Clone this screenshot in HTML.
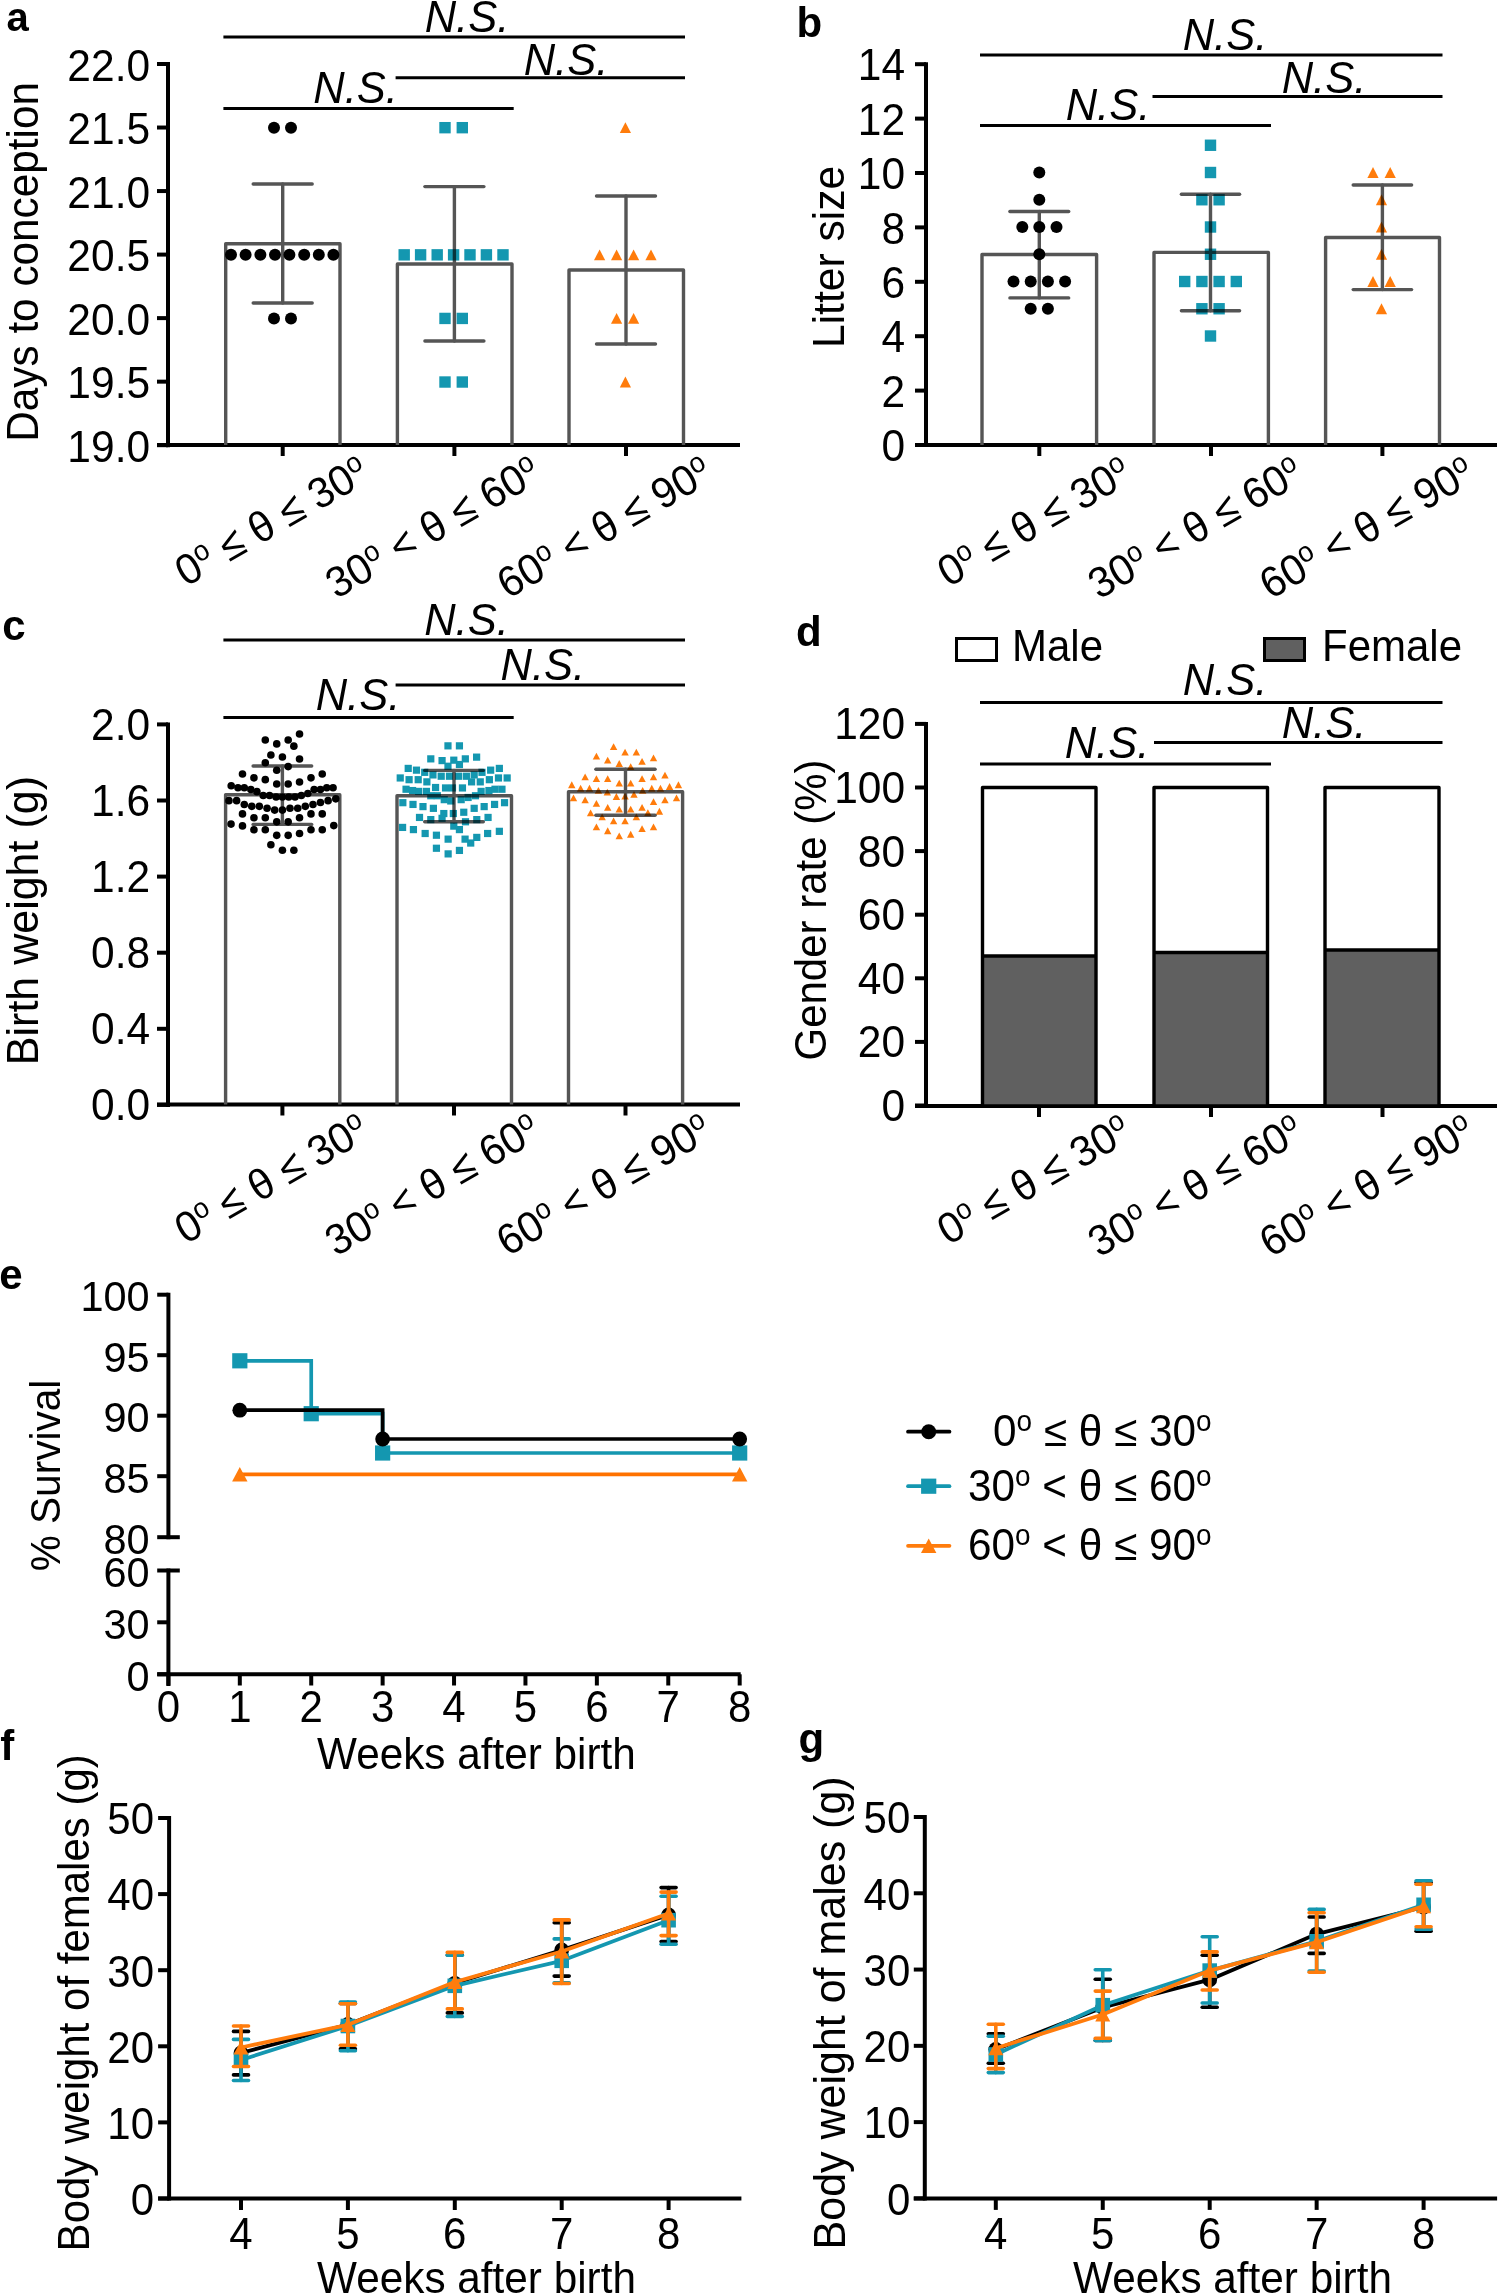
<!DOCTYPE html>
<html><head><meta charset="utf-8"><title>Figure</title>
<style>
html,body{margin:0;padding:0;background:#fff;}
svg{display:block;}
text{font-family:"Liberation Sans", sans-serif;fill:#000;}
</style></head>
<body>
<svg width="1498" height="2295" viewBox="0 0 1498 2295">
<rect width="1498" height="2295" fill="#fff"/>
<text transform="translate(6.5 31.2)" font-size="40" text-anchor="start" font-weight="bold">a</text>
<line x1="168" y1="62" x2="168" y2="447.18" stroke="#000" stroke-width="4" stroke-linecap="butt"/>
<line x1="157" y1="64" x2="168" y2="64" stroke="#000" stroke-width="4" stroke-linecap="butt"/>
<text transform="translate(150.1 80.5) scale(1 1.035)" font-size="42.5" text-anchor="end">22.0</text>
<line x1="157" y1="127.53" x2="168" y2="127.53" stroke="#000" stroke-width="4" stroke-linecap="butt"/>
<text transform="translate(150.1 144.03) scale(1 1.035)" font-size="42.5" text-anchor="end">21.5</text>
<line x1="157" y1="191.06" x2="168" y2="191.06" stroke="#000" stroke-width="4" stroke-linecap="butt"/>
<text transform="translate(150.1 207.56) scale(1 1.035)" font-size="42.5" text-anchor="end">21.0</text>
<line x1="157" y1="254.59" x2="168" y2="254.59" stroke="#000" stroke-width="4" stroke-linecap="butt"/>
<text transform="translate(150.1 271.09) scale(1 1.035)" font-size="42.5" text-anchor="end">20.5</text>
<line x1="157" y1="318.12" x2="168" y2="318.12" stroke="#000" stroke-width="4" stroke-linecap="butt"/>
<text transform="translate(150.1 334.62) scale(1 1.035)" font-size="42.5" text-anchor="end">20.0</text>
<line x1="157" y1="381.65" x2="168" y2="381.65" stroke="#000" stroke-width="4" stroke-linecap="butt"/>
<text transform="translate(150.1 398.15) scale(1 1.035)" font-size="42.5" text-anchor="end">19.5</text>
<line x1="157" y1="445.18" x2="168" y2="445.18" stroke="#000" stroke-width="4" stroke-linecap="butt"/>
<text transform="translate(150.1 461.68) scale(1 1.035)" font-size="42.5" text-anchor="end">19.0</text>
<line x1="157" y1="445" x2="740" y2="445" stroke="#000" stroke-width="4" stroke-linecap="butt"/>
<line x1="282.7" y1="445" x2="282.7" y2="456" stroke="#000" stroke-width="4" stroke-linecap="butt"/>
<line x1="454.4" y1="445" x2="454.4" y2="456" stroke="#000" stroke-width="4" stroke-linecap="butt"/>
<line x1="626" y1="445" x2="626" y2="456" stroke="#000" stroke-width="4" stroke-linecap="butt"/>
<path d="M225.7 445V243.7H340V445" fill="none" stroke="#555" stroke-width="3.4" stroke-linejoin="round"/>
<path d="M397.4 445V264H512V445" fill="none" stroke="#555" stroke-width="3.4" stroke-linejoin="round"/>
<path d="M569 445V270H683.5V445" fill="none" stroke="#555" stroke-width="3.4" stroke-linejoin="round"/>
<g stroke="#555" stroke-width="3.4" stroke-linecap="round">
<line x1="282.7" y1="184" x2="282.7" y2="303"/>
<line x1="253.2" y1="184" x2="312.2" y2="184"/>
<line x1="253.2" y1="303" x2="312.2" y2="303"/>
</g>
<g stroke="#555" stroke-width="3.4" stroke-linecap="round">
<line x1="454.4" y1="186.6" x2="454.4" y2="341"/>
<line x1="424.9" y1="186.6" x2="483.9" y2="186.6"/>
<line x1="424.9" y1="341" x2="483.9" y2="341"/>
</g>
<g stroke="#555" stroke-width="3.4" stroke-linecap="round">
<line x1="626" y1="196" x2="626" y2="344"/>
<line x1="596.5" y1="196" x2="655.5" y2="196"/>
<line x1="596.5" y1="344" x2="655.5" y2="344"/>
</g>
<g style="mix-blend-mode:multiply">
<circle cx="231" cy="254.85" r="6" fill="#000"/>
<circle cx="245.6" cy="254.85" r="6" fill="#000"/>
<circle cx="260.4" cy="254.85" r="6" fill="#000"/>
<circle cx="275" cy="254.85" r="6" fill="#000"/>
<circle cx="289.4" cy="254.85" r="6" fill="#000"/>
<circle cx="304.2" cy="254.85" r="6" fill="#000"/>
<circle cx="318.8" cy="254.85" r="6" fill="#000"/>
<circle cx="333.4" cy="254.85" r="6" fill="#000"/>
<circle cx="274" cy="127.68" r="6" fill="#000"/>
<circle cx="274" cy="318.43" r="6" fill="#000"/>
<circle cx="291" cy="127.68" r="6" fill="#000"/>
<circle cx="291" cy="318.43" r="6" fill="#000"/>
<rect x="398.5" y="249.15" width="11.4" height="11.4" fill="#1497b0"/>
<rect x="414.9" y="249.15" width="11.4" height="11.4" fill="#1497b0"/>
<rect x="431.5" y="249.15" width="11.4" height="11.4" fill="#1497b0"/>
<rect x="447.9" y="249.15" width="11.4" height="11.4" fill="#1497b0"/>
<rect x="464.3" y="249.15" width="11.4" height="11.4" fill="#1497b0"/>
<rect x="480.7" y="249.15" width="11.4" height="11.4" fill="#1497b0"/>
<rect x="497.3" y="249.15" width="11.4" height="11.4" fill="#1497b0"/>
<rect x="439.3" y="121.98" width="11.4" height="11.4" fill="#1497b0"/>
<rect x="439.3" y="312.73" width="11.4" height="11.4" fill="#1497b0"/>
<rect x="439.3" y="376.32" width="11.4" height="11.4" fill="#1497b0"/>
<rect x="456.6" y="121.98" width="11.4" height="11.4" fill="#1497b0"/>
<rect x="456.6" y="312.73" width="11.4" height="11.4" fill="#1497b0"/>
<rect x="456.6" y="376.32" width="11.4" height="11.4" fill="#1497b0"/>
<path d="M599.6 249.45L605.2 260.25L594 260.25Z" fill="#ff7c0c"/>
<path d="M616.6 249.45L622.2 260.25L611 260.25Z" fill="#ff7c0c"/>
<path d="M633.6 249.45L639.2 260.25L628 260.25Z" fill="#ff7c0c"/>
<path d="M651 249.45L656.6 260.25L645.4 260.25Z" fill="#ff7c0c"/>
<path d="M616.6 313.03L622.2 323.83L611 323.83Z" fill="#ff7c0c"/>
<path d="M633.6 313.03L639.2 323.83L628 323.83Z" fill="#ff7c0c"/>
<path d="M625.4 376.62L631 387.42L619.8 387.42Z" fill="#ff7c0c"/>
<path d="M625.4 122.28L631 133.08L619.8 133.08Z" fill="#ff7c0c"/>
</g>
<line x1="223.4" y1="37" x2="685" y2="37" stroke="#000" stroke-width="3" stroke-linecap="butt"/>
<line x1="395.6" y1="77.7" x2="685" y2="77.7" stroke="#000" stroke-width="3" stroke-linecap="butt"/>
<line x1="223.4" y1="108.6" x2="513.7" y2="108.6" stroke="#000" stroke-width="3" stroke-linecap="butt"/>
<text transform="translate(467 32) scale(1 1.035)" font-size="43.5" text-anchor="middle" font-style="italic">N.S.</text>
<text transform="translate(566 75) scale(1 1.035)" font-size="43.5" text-anchor="middle" font-style="italic">N.S.</text>
<text transform="translate(355.6 103) scale(1 1.035)" font-size="43.5" text-anchor="middle" font-style="italic">N.S.</text>
<text transform="translate(37.8 261.9) rotate(-90) scale(1 1.035)" font-size="42.3" text-anchor="middle">Days to conception</text>
<text transform="translate(371.7 480) rotate(-30) scale(1 1.035)" font-size="41.5" text-anchor="end">0<tspan font-size="27.4" dy="-14.1">o</tspan><tspan dy="14.1"> ≤ θ ≤ 30</tspan><tspan font-size="27.4" dy="-14.1">o</tspan></text>
<text transform="translate(543.4 480) rotate(-30) scale(1 1.035)" font-size="41.5" text-anchor="end">30<tspan font-size="27.4" dy="-14.1">o</tspan><tspan dy="14.1"> &lt; θ ≤ 60</tspan><tspan font-size="27.4" dy="-14.1">o</tspan></text>
<text transform="translate(715 480) rotate(-30) scale(1 1.035)" font-size="41.5" text-anchor="end">60<tspan font-size="27.4" dy="-14.1">o</tspan><tspan dy="14.1"> &lt; θ ≤ 90</tspan><tspan font-size="27.4" dy="-14.1">o</tspan></text>
<text transform="translate(796.5 37.2)" font-size="42" text-anchor="start" font-weight="bold">b</text>
<line x1="926" y1="62.2" x2="926" y2="447" stroke="#000" stroke-width="4" stroke-linecap="butt"/>
<line x1="915" y1="64.2" x2="926" y2="64.2" stroke="#000" stroke-width="4" stroke-linecap="butt"/>
<text transform="translate(905.1 80.4) scale(1 1.035)" font-size="42.5" text-anchor="end">14</text>
<line x1="915" y1="118.6" x2="926" y2="118.6" stroke="#000" stroke-width="4" stroke-linecap="butt"/>
<text transform="translate(905.1 134.8) scale(1 1.035)" font-size="42.5" text-anchor="end">12</text>
<line x1="915" y1="173" x2="926" y2="173" stroke="#000" stroke-width="4" stroke-linecap="butt"/>
<text transform="translate(905.1 189.2) scale(1 1.035)" font-size="42.5" text-anchor="end">10</text>
<line x1="915" y1="227.4" x2="926" y2="227.4" stroke="#000" stroke-width="4" stroke-linecap="butt"/>
<text transform="translate(905.1 243.6) scale(1 1.035)" font-size="42.5" text-anchor="end">8</text>
<line x1="915" y1="281.8" x2="926" y2="281.8" stroke="#000" stroke-width="4" stroke-linecap="butt"/>
<text transform="translate(905.1 298) scale(1 1.035)" font-size="42.5" text-anchor="end">6</text>
<line x1="915" y1="336.2" x2="926" y2="336.2" stroke="#000" stroke-width="4" stroke-linecap="butt"/>
<text transform="translate(905.1 352.4) scale(1 1.035)" font-size="42.5" text-anchor="end">4</text>
<line x1="915" y1="390.6" x2="926" y2="390.6" stroke="#000" stroke-width="4" stroke-linecap="butt"/>
<text transform="translate(905.1 406.8) scale(1 1.035)" font-size="42.5" text-anchor="end">2</text>
<line x1="915" y1="445" x2="926" y2="445" stroke="#000" stroke-width="4" stroke-linecap="butt"/>
<text transform="translate(905.1 461.2) scale(1 1.035)" font-size="42.5" text-anchor="end">0</text>
<line x1="915" y1="445" x2="1497" y2="445" stroke="#000" stroke-width="4" stroke-linecap="butt"/>
<line x1="1039.3" y1="445" x2="1039.3" y2="456" stroke="#000" stroke-width="4" stroke-linecap="butt"/>
<line x1="1211" y1="445" x2="1211" y2="456" stroke="#000" stroke-width="4" stroke-linecap="butt"/>
<line x1="1382.4" y1="445" x2="1382.4" y2="456" stroke="#000" stroke-width="4" stroke-linecap="butt"/>
<path d="M982 445V254.5H1096.6V445" fill="none" stroke="#555" stroke-width="3.4" stroke-linejoin="round"/>
<path d="M1154 445V252.4H1268.4V445" fill="none" stroke="#555" stroke-width="3.4" stroke-linejoin="round"/>
<path d="M1325.6 445V237.5H1439.5V445" fill="none" stroke="#555" stroke-width="3.4" stroke-linejoin="round"/>
<g stroke="#555" stroke-width="3.4" stroke-linecap="round">
<line x1="1039.3" y1="211.5" x2="1039.3" y2="297.9"/>
<line x1="1009.9" y1="211.5" x2="1068.7" y2="211.5"/>
<line x1="1009.9" y1="297.9" x2="1068.7" y2="297.9"/>
</g>
<g stroke="#555" stroke-width="3.4" stroke-linecap="round">
<line x1="1210.5" y1="194.3" x2="1210.5" y2="310.7"/>
<line x1="1181.4" y1="194.3" x2="1239.6" y2="194.3"/>
<line x1="1181.4" y1="310.7" x2="1239.6" y2="310.7"/>
</g>
<g stroke="#555" stroke-width="3.4" stroke-linecap="round">
<line x1="1382.4" y1="185" x2="1382.4" y2="289.6"/>
<line x1="1353.2" y1="185" x2="1411.6" y2="185"/>
<line x1="1353.2" y1="289.6" x2="1411.6" y2="289.6"/>
</g>
<g style="mix-blend-mode:multiply">
<circle cx="1039.3" cy="172.5" r="6" fill="#000"/>
<circle cx="1039.3" cy="199.75" r="6" fill="#000"/>
<circle cx="1022.3" cy="227" r="6" fill="#000"/>
<circle cx="1039.3" cy="227" r="6" fill="#000"/>
<circle cx="1056.5" cy="227" r="6" fill="#000"/>
<circle cx="1039.3" cy="254.25" r="6" fill="#000"/>
<circle cx="1013.5" cy="281.5" r="6" fill="#000"/>
<circle cx="1030.7" cy="281.5" r="6" fill="#000"/>
<circle cx="1047.9" cy="281.5" r="6" fill="#000"/>
<circle cx="1065.1" cy="281.5" r="6" fill="#000"/>
<circle cx="1030.7" cy="308.75" r="6" fill="#000"/>
<circle cx="1047.9" cy="308.75" r="6" fill="#000"/>
<rect x="1204.8" y="139.55" width="11.4" height="11.4" fill="#1497b0"/>
<rect x="1204.8" y="166.8" width="11.4" height="11.4" fill="#1497b0"/>
<rect x="1196.2" y="194.05" width="11.4" height="11.4" fill="#1497b0"/>
<rect x="1213.4" y="194.05" width="11.4" height="11.4" fill="#1497b0"/>
<rect x="1204.8" y="221.3" width="11.4" height="11.4" fill="#1497b0"/>
<rect x="1204.8" y="248.55" width="11.4" height="11.4" fill="#1497b0"/>
<rect x="1179" y="275.8" width="11.4" height="11.4" fill="#1497b0"/>
<rect x="1196.2" y="275.8" width="11.4" height="11.4" fill="#1497b0"/>
<rect x="1213.4" y="275.8" width="11.4" height="11.4" fill="#1497b0"/>
<rect x="1230.6" y="275.8" width="11.4" height="11.4" fill="#1497b0"/>
<rect x="1196.2" y="303.05" width="11.4" height="11.4" fill="#1497b0"/>
<rect x="1213.4" y="303.05" width="11.4" height="11.4" fill="#1497b0"/>
<rect x="1204.8" y="330.3" width="11.4" height="11.4" fill="#1497b0"/>
<path d="M1373 167.1L1378.6 177.9L1367.4 177.9Z" fill="#ff7c0c"/>
<path d="M1390.2 167.1L1395.8 177.9L1384.6 177.9Z" fill="#ff7c0c"/>
<path d="M1381.5 194.35L1387.1 205.15L1375.9 205.15Z" fill="#ff7c0c"/>
<path d="M1381.5 221.6L1387.1 232.4L1375.9 232.4Z" fill="#ff7c0c"/>
<path d="M1381.5 248.85L1387.1 259.65L1375.9 259.65Z" fill="#ff7c0c"/>
<path d="M1373 276.1L1378.6 286.9L1367.4 286.9Z" fill="#ff7c0c"/>
<path d="M1390.2 276.1L1395.8 286.9L1384.6 286.9Z" fill="#ff7c0c"/>
<path d="M1381.5 303.35L1387.1 314.15L1375.9 314.15Z" fill="#ff7c0c"/>
</g>
<line x1="980" y1="55" x2="1442.5" y2="55" stroke="#000" stroke-width="3" stroke-linecap="butt"/>
<line x1="1152.5" y1="96.5" x2="1442.5" y2="96.5" stroke="#000" stroke-width="3" stroke-linecap="butt"/>
<line x1="980" y1="125.5" x2="1271" y2="125.5" stroke="#000" stroke-width="3" stroke-linecap="butt"/>
<text transform="translate(1225 50) scale(1 1.035)" font-size="43.5" text-anchor="middle" font-style="italic">N.S.</text>
<text transform="translate(1324 92.5) scale(1 1.035)" font-size="43.5" text-anchor="middle" font-style="italic">N.S.</text>
<text transform="translate(1108 120) scale(1 1.035)" font-size="43.5" text-anchor="middle" font-style="italic">N.S.</text>
<text transform="translate(843.5 256.9) rotate(-90) scale(1 1.035)" font-size="42.6" text-anchor="middle">Litter size</text>
<text transform="translate(1134.3 480.5) rotate(-30) scale(1 1.035)" font-size="41.5" text-anchor="end">0<tspan font-size="27.4" dy="-14.1">o</tspan><tspan dy="14.1"> ≤ θ ≤ 30</tspan><tspan font-size="27.4" dy="-14.1">o</tspan></text>
<text transform="translate(1306 480.5) rotate(-30) scale(1 1.035)" font-size="41.5" text-anchor="end">30<tspan font-size="27.4" dy="-14.1">o</tspan><tspan dy="14.1"> &lt; θ ≤ 60</tspan><tspan font-size="27.4" dy="-14.1">o</tspan></text>
<text transform="translate(1477.4 480.5) rotate(-30) scale(1 1.035)" font-size="41.5" text-anchor="end">60<tspan font-size="27.4" dy="-14.1">o</tspan><tspan dy="14.1"> &lt; θ ≤ 90</tspan><tspan font-size="27.4" dy="-14.1">o</tspan></text>
<text transform="translate(2.2 639.8)" font-size="42" text-anchor="start" font-weight="bold">c</text>
<line x1="168" y1="722.4" x2="168" y2="1106.9" stroke="#000" stroke-width="4" stroke-linecap="butt"/>
<line x1="157" y1="724.4" x2="168" y2="724.4" stroke="#000" stroke-width="4" stroke-linecap="butt"/>
<text transform="translate(150.1 739.6) scale(1 1.035)" font-size="42.5" text-anchor="end">2.0</text>
<line x1="157" y1="800.5" x2="168" y2="800.5" stroke="#000" stroke-width="4" stroke-linecap="butt"/>
<text transform="translate(150.1 815.7) scale(1 1.035)" font-size="42.5" text-anchor="end">1.6</text>
<line x1="157" y1="876.6" x2="168" y2="876.6" stroke="#000" stroke-width="4" stroke-linecap="butt"/>
<text transform="translate(150.1 891.8) scale(1 1.035)" font-size="42.5" text-anchor="end">1.2</text>
<line x1="157" y1="952.7" x2="168" y2="952.7" stroke="#000" stroke-width="4" stroke-linecap="butt"/>
<text transform="translate(150.1 967.9) scale(1 1.035)" font-size="42.5" text-anchor="end">0.8</text>
<line x1="157" y1="1028.8" x2="168" y2="1028.8" stroke="#000" stroke-width="4" stroke-linecap="butt"/>
<text transform="translate(150.1 1044) scale(1 1.035)" font-size="42.5" text-anchor="end">0.4</text>
<line x1="157" y1="1104.9" x2="168" y2="1104.9" stroke="#000" stroke-width="4" stroke-linecap="butt"/>
<text transform="translate(150.1 1120.1) scale(1 1.035)" font-size="42.5" text-anchor="end">0.0</text>
<line x1="157" y1="1104.5" x2="740" y2="1104.5" stroke="#000" stroke-width="4" stroke-linecap="butt"/>
<line x1="282.4" y1="1104.5" x2="282.4" y2="1115.5" stroke="#000" stroke-width="4" stroke-linecap="butt"/>
<line x1="454" y1="1104.5" x2="454" y2="1115.5" stroke="#000" stroke-width="4" stroke-linecap="butt"/>
<line x1="625.5" y1="1104.5" x2="625.5" y2="1115.5" stroke="#000" stroke-width="4" stroke-linecap="butt"/>
<path d="M225.6 1104.5V794.8H339.8V1104.5" fill="none" stroke="#555" stroke-width="3.4" stroke-linejoin="round"/>
<path d="M397 1104.5V795.7H511.5V1104.5" fill="none" stroke="#555" stroke-width="3.4" stroke-linejoin="round"/>
<path d="M568.5 1104.5V791.8H682.6V1104.5" fill="none" stroke="#555" stroke-width="3.4" stroke-linejoin="round"/>
<g stroke="#555" stroke-width="3.4" stroke-linecap="round">
<line x1="282.4" y1="766" x2="282.4" y2="824.4"/>
<line x1="253.1" y1="766" x2="311.7" y2="766"/>
<line x1="253.1" y1="824.4" x2="311.7" y2="824.4"/>
</g>
<g stroke="#555" stroke-width="3.4" stroke-linecap="round">
<line x1="454" y1="770.4" x2="454" y2="821.8"/>
<line x1="424.7" y1="770.4" x2="483.3" y2="770.4"/>
<line x1="424.7" y1="821.8" x2="483.3" y2="821.8"/>
</g>
<g stroke="#555" stroke-width="3.4" stroke-linecap="round">
<line x1="625.5" y1="769.3" x2="625.5" y2="815.3"/>
<line x1="595.9" y1="769.3" x2="655.1" y2="769.3"/>
<line x1="595.9" y1="815.3" x2="655.1" y2="815.3"/>
</g>
<g style="mix-blend-mode:multiply">
<circle cx="299.53" cy="733.97" r="3.8" fill="#000"/>
<circle cx="265.29" cy="740.01" r="3.8" fill="#000"/>
<circle cx="288.18" cy="740.01" r="3.8" fill="#000"/>
<circle cx="276.73" cy="743.88" r="3.8" fill="#000"/>
<circle cx="293.86" cy="746.14" r="3.8" fill="#000"/>
<circle cx="270.88" cy="754.97" r="3.8" fill="#000"/>
<circle cx="282.41" cy="756.95" r="3.8" fill="#000"/>
<circle cx="299.53" cy="758.93" r="3.8" fill="#000"/>
<circle cx="265.29" cy="762.81" r="3.8" fill="#000"/>
<circle cx="288.18" cy="766.59" r="3.8" fill="#000"/>
<circle cx="276.73" cy="770.29" r="3.8" fill="#000"/>
<circle cx="242.49" cy="774.07" r="3.8" fill="#000"/>
<circle cx="253.93" cy="777.86" r="3.8" fill="#000"/>
<circle cx="265.29" cy="779.66" r="3.8" fill="#000"/>
<circle cx="322.25" cy="774.07" r="3.8" fill="#000"/>
<circle cx="310.98" cy="777.86" r="3.8" fill="#000"/>
<circle cx="299.53" cy="782" r="3.8" fill="#000"/>
<circle cx="276.73" cy="783.99" r="3.8" fill="#000"/>
<circle cx="288.18" cy="783.99" r="3.8" fill="#000"/>
<circle cx="231.22" cy="785.79" r="3.8" fill="#000"/>
<circle cx="237.98" cy="787.77" r="3.8" fill="#000"/>
<circle cx="244.29" cy="787.77" r="3.8" fill="#000"/>
<circle cx="250.87" cy="789.57" r="3.8" fill="#000"/>
<circle cx="256.91" cy="791.65" r="3.8" fill="#000"/>
<circle cx="263.22" cy="795.52" r="3.8" fill="#000"/>
<circle cx="269.52" cy="795.52" r="3.8" fill="#000"/>
<circle cx="276.1" cy="797.05" r="3.8" fill="#000"/>
<circle cx="282.41" cy="797.05" r="3.8" fill="#000"/>
<circle cx="288.72" cy="797.05" r="3.8" fill="#000"/>
<circle cx="295.03" cy="797.05" r="3.8" fill="#000"/>
<circle cx="301.34" cy="795.52" r="3.8" fill="#000"/>
<circle cx="307.83" cy="793.45" r="3.8" fill="#000"/>
<circle cx="314.13" cy="789.57" r="3.8" fill="#000"/>
<circle cx="320.44" cy="789.57" r="3.8" fill="#000"/>
<circle cx="326.75" cy="787.77" r="3.8" fill="#000"/>
<circle cx="333.06" cy="787.77" r="3.8" fill="#000"/>
<circle cx="228.97" cy="800.66" r="3.8" fill="#000"/>
<circle cx="236.63" cy="800.66" r="3.8" fill="#000"/>
<circle cx="244.29" cy="804.53" r="3.8" fill="#000"/>
<circle cx="251.77" cy="806.34" r="3.8" fill="#000"/>
<circle cx="259.34" cy="806.34" r="3.8" fill="#000"/>
<circle cx="267.09" cy="808.32" r="3.8" fill="#000"/>
<circle cx="274.66" cy="810.12" r="3.8" fill="#000"/>
<circle cx="282.41" cy="810.12" r="3.8" fill="#000"/>
<circle cx="289.98" cy="808.32" r="3.8" fill="#000"/>
<circle cx="297.73" cy="808.32" r="3.8" fill="#000"/>
<circle cx="305.3" cy="806.34" r="3.8" fill="#000"/>
<circle cx="312.96" cy="804.53" r="3.8" fill="#000"/>
<circle cx="320.44" cy="802.46" r="3.8" fill="#000"/>
<circle cx="328.1" cy="800.66" r="3.8" fill="#000"/>
<circle cx="335.76" cy="798.86" r="3.8" fill="#000"/>
<circle cx="242.49" cy="813.91" r="3.8" fill="#000"/>
<circle cx="253.93" cy="817.78" r="3.8" fill="#000"/>
<circle cx="265.29" cy="817.78" r="3.8" fill="#000"/>
<circle cx="276.73" cy="821.84" r="3.8" fill="#000"/>
<circle cx="288.18" cy="821.84" r="3.8" fill="#000"/>
<circle cx="299.53" cy="817.78" r="3.8" fill="#000"/>
<circle cx="310.98" cy="813.91" r="3.8" fill="#000"/>
<circle cx="322.25" cy="813.91" r="3.8" fill="#000"/>
<circle cx="231.04" cy="824.09" r="3.8" fill="#000"/>
<circle cx="242.49" cy="825.89" r="3.8" fill="#000"/>
<circle cx="253.93" cy="829.77" r="3.8" fill="#000"/>
<circle cx="265.29" cy="829.77" r="3.8" fill="#000"/>
<circle cx="276.73" cy="835.36" r="3.8" fill="#000"/>
<circle cx="288.18" cy="835.36" r="3.8" fill="#000"/>
<circle cx="299.53" cy="833.55" r="3.8" fill="#000"/>
<circle cx="310.98" cy="829.77" r="3.8" fill="#000"/>
<circle cx="322.25" cy="829.77" r="3.8" fill="#000"/>
<circle cx="333.78" cy="825.62" r="3.8" fill="#000"/>
<circle cx="270.88" cy="844.82" r="3.8" fill="#000"/>
<circle cx="282.41" cy="850.23" r="3.8" fill="#000"/>
<circle cx="293.86" cy="850.23" r="3.8" fill="#000"/>
<rect x="444.37" y="742.25" width="7.2" height="7.2" fill="#1497b0"/>
<rect x="455.83" y="742.25" width="7.2" height="7.2" fill="#1497b0"/>
<rect x="427.19" y="755.27" width="7.2" height="7.2" fill="#1497b0"/>
<rect x="438.47" y="757" width="7.2" height="7.2" fill="#1497b0"/>
<rect x="450.19" y="756.57" width="7.2" height="7.2" fill="#1497b0"/>
<rect x="461.73" y="755.27" width="7.2" height="7.2" fill="#1497b0"/>
<rect x="473.01" y="753.53" width="7.2" height="7.2" fill="#1497b0"/>
<rect x="444.37" y="762.64" width="7.2" height="7.2" fill="#1497b0"/>
<rect x="455.83" y="760.91" width="7.2" height="7.2" fill="#1497b0"/>
<rect x="404.62" y="764.81" width="7.2" height="7.2" fill="#1497b0"/>
<rect x="412.87" y="766.55" width="7.2" height="7.2" fill="#1497b0"/>
<rect x="487.07" y="766.55" width="7.2" height="7.2" fill="#1497b0"/>
<rect x="495.75" y="764.81" width="7.2" height="7.2" fill="#1497b0"/>
<rect x="421.11" y="768.72" width="7.2" height="7.2" fill="#1497b0"/>
<rect x="478.39" y="768.72" width="7.2" height="7.2" fill="#1497b0"/>
<rect x="396.64" y="774.36" width="7.2" height="7.2" fill="#1497b0"/>
<rect x="405.49" y="776.09" width="7.2" height="7.2" fill="#1497b0"/>
<rect x="414.6" y="776.09" width="7.2" height="7.2" fill="#1497b0"/>
<rect x="423.28" y="778.26" width="7.2" height="7.2" fill="#1497b0"/>
<rect x="429.36" y="771.32" width="7.2" height="7.2" fill="#1497b0"/>
<rect x="437.6" y="772.62" width="7.2" height="7.2" fill="#1497b0"/>
<rect x="445.85" y="772.62" width="7.2" height="7.2" fill="#1497b0"/>
<rect x="454.96" y="772.62" width="7.2" height="7.2" fill="#1497b0"/>
<rect x="462.77" y="772.62" width="7.2" height="7.2" fill="#1497b0"/>
<rect x="470.58" y="771.32" width="7.2" height="7.2" fill="#1497b0"/>
<rect x="467.98" y="778.26" width="7.2" height="7.2" fill="#1497b0"/>
<rect x="476.65" y="778.26" width="7.2" height="7.2" fill="#1497b0"/>
<rect x="485.77" y="776.09" width="7.2" height="7.2" fill="#1497b0"/>
<rect x="494.88" y="774.36" width="7.2" height="7.2" fill="#1497b0"/>
<rect x="503.56" y="774.36" width="7.2" height="7.2" fill="#1497b0"/>
<rect x="402.45" y="785.64" width="7.2" height="7.2" fill="#1497b0"/>
<rect x="408.96" y="786.94" width="7.2" height="7.2" fill="#1497b0"/>
<rect x="415.04" y="787.81" width="7.2" height="7.2" fill="#1497b0"/>
<rect x="422.85" y="787.81" width="7.2" height="7.2" fill="#1497b0"/>
<rect x="431.96" y="783.9" width="7.2" height="7.2" fill="#1497b0"/>
<rect x="441.94" y="784.34" width="7.2" height="7.2" fill="#1497b0"/>
<rect x="448.88" y="784.34" width="7.2" height="7.2" fill="#1497b0"/>
<rect x="458.86" y="784.34" width="7.2" height="7.2" fill="#1497b0"/>
<rect x="477.52" y="787.81" width="7.2" height="7.2" fill="#1497b0"/>
<rect x="485.33" y="786.94" width="7.2" height="7.2" fill="#1497b0"/>
<rect x="491.41" y="785.64" width="7.2" height="7.2" fill="#1497b0"/>
<rect x="498.35" y="785.64" width="7.2" height="7.2" fill="#1497b0"/>
<rect x="427.19" y="792.15" width="7.2" height="7.2" fill="#1497b0"/>
<rect x="433.7" y="792.15" width="7.2" height="7.2" fill="#1497b0"/>
<rect x="440.64" y="796.05" width="7.2" height="7.2" fill="#1497b0"/>
<rect x="447.15" y="797.36" width="7.2" height="7.2" fill="#1497b0"/>
<rect x="457.56" y="796.05" width="7.2" height="7.2" fill="#1497b0"/>
<rect x="464.5" y="793.88" width="7.2" height="7.2" fill="#1497b0"/>
<rect x="471.88" y="792.15" width="7.2" height="7.2" fill="#1497b0"/>
<rect x="399.24" y="799.09" width="7.2" height="7.2" fill="#1497b0"/>
<rect x="409.4" y="800.83" width="7.2" height="7.2" fill="#1497b0"/>
<rect x="419.38" y="803" width="7.2" height="7.2" fill="#1497b0"/>
<rect x="429.79" y="804.73" width="7.2" height="7.2" fill="#1497b0"/>
<rect x="470.58" y="804.73" width="7.2" height="7.2" fill="#1497b0"/>
<rect x="480.56" y="803" width="7.2" height="7.2" fill="#1497b0"/>
<rect x="490.97" y="800.83" width="7.2" height="7.2" fill="#1497b0"/>
<rect x="500.95" y="799.09" width="7.2" height="7.2" fill="#1497b0"/>
<rect x="440.21" y="809.94" width="7.2" height="7.2" fill="#1497b0"/>
<rect x="449.75" y="809.94" width="7.2" height="7.2" fill="#1497b0"/>
<rect x="460.17" y="808.64" width="7.2" height="7.2" fill="#1497b0"/>
<rect x="415.91" y="813.84" width="7.2" height="7.2" fill="#1497b0"/>
<rect x="427.19" y="816.01" width="7.2" height="7.2" fill="#1497b0"/>
<rect x="438.47" y="814.71" width="7.2" height="7.2" fill="#1497b0"/>
<rect x="473.18" y="816.01" width="7.2" height="7.2" fill="#1497b0"/>
<rect x="484.46" y="813.84" width="7.2" height="7.2" fill="#1497b0"/>
<rect x="461.9" y="818.18" width="7.2" height="7.2" fill="#1497b0"/>
<rect x="450.19" y="822.52" width="7.2" height="7.2" fill="#1497b0"/>
<rect x="455.83" y="825.99" width="7.2" height="7.2" fill="#1497b0"/>
<rect x="398.98" y="823.82" width="7.2" height="7.2" fill="#1497b0"/>
<rect x="409.83" y="825.99" width="7.2" height="7.2" fill="#1497b0"/>
<rect x="421.55" y="829.9" width="7.2" height="7.2" fill="#1497b0"/>
<rect x="432.83" y="831.63" width="7.2" height="7.2" fill="#1497b0"/>
<rect x="444.54" y="835.54" width="7.2" height="7.2" fill="#1497b0"/>
<rect x="461.47" y="835.54" width="7.2" height="7.2" fill="#1497b0"/>
<rect x="467.11" y="839.44" width="7.2" height="7.2" fill="#1497b0"/>
<rect x="473.18" y="833.8" width="7.2" height="7.2" fill="#1497b0"/>
<rect x="484.03" y="829.9" width="7.2" height="7.2" fill="#1497b0"/>
<rect x="495.75" y="827.73" width="7.2" height="7.2" fill="#1497b0"/>
<rect x="432.83" y="844.65" width="7.2" height="7.2" fill="#1497b0"/>
<rect x="444.54" y="850.29" width="7.2" height="7.2" fill="#1497b0"/>
<rect x="455.83" y="846.82" width="7.2" height="7.2" fill="#1497b0"/>
<path d="M613.6 743.18L617.3 749.98L609.9 749.98Z" fill="#ff7c0c"/>
<path d="M625.05 748.82L628.75 755.62L621.35 755.62Z" fill="#ff7c0c"/>
<path d="M636.34 748.82L640.04 755.62L632.64 755.62Z" fill="#ff7c0c"/>
<path d="M596.42 752.73L600.12 759.53L592.72 759.53Z" fill="#ff7c0c"/>
<path d="M607.7 756.63L611.4 763.43L604 763.43Z" fill="#ff7c0c"/>
<path d="M642.06 757.93L645.76 764.73L638.36 764.73Z" fill="#ff7c0c"/>
<path d="M653.52 754.46L657.22 761.26L649.82 761.26Z" fill="#ff7c0c"/>
<path d="M619.24 760.1L622.94 766.9L615.54 766.9Z" fill="#ff7c0c"/>
<path d="M630.69 763.14L634.39 769.94L626.99 769.94Z" fill="#ff7c0c"/>
<path d="M585.13 773.56L588.83 780.36L581.43 780.36Z" fill="#ff7c0c"/>
<path d="M596.42 775.29L600.12 782.09L592.72 782.09Z" fill="#ff7c0c"/>
<path d="M607.7 775.29L611.4 782.09L604 782.09Z" fill="#ff7c0c"/>
<path d="M642.06 775.29L645.76 782.09L638.36 782.09Z" fill="#ff7c0c"/>
<path d="M653.52 773.56L657.22 780.36L649.82 780.36Z" fill="#ff7c0c"/>
<path d="M664.97 771.82L668.67 778.62L661.27 778.62Z" fill="#ff7c0c"/>
<path d="M619.24 779.63L622.94 786.43L615.54 786.43Z" fill="#ff7c0c"/>
<path d="M630.69 779.63L634.39 786.43L626.99 786.43Z" fill="#ff7c0c"/>
<path d="M571.77 781.37L575.47 788.17L568.07 788.17Z" fill="#ff7c0c"/>
<path d="M580.62 784.84L584.32 791.64L576.92 791.64Z" fill="#ff7c0c"/>
<path d="M589.47 784.84L593.17 791.64L585.77 791.64Z" fill="#ff7c0c"/>
<path d="M598.41 787.01L602.11 793.81L594.71 793.81Z" fill="#ff7c0c"/>
<path d="M607.35 788.74L611.05 795.54L603.65 795.54Z" fill="#ff7c0c"/>
<path d="M642.67 787.01L646.37 793.81L638.97 793.81Z" fill="#ff7c0c"/>
<path d="M651.78 784.84L655.48 791.64L648.08 791.64Z" fill="#ff7c0c"/>
<path d="M660.46 784.84L664.16 791.64L656.76 791.64Z" fill="#ff7c0c"/>
<path d="M669.57 783.1L673.27 789.9L665.87 789.9Z" fill="#ff7c0c"/>
<path d="M678.43 781.37L682.13 788.17L674.73 788.17Z" fill="#ff7c0c"/>
<path d="M573.5 794.38L577.2 801.18L569.8 801.18Z" fill="#ff7c0c"/>
<path d="M585.13 796.55L588.83 803.35L581.43 803.35Z" fill="#ff7c0c"/>
<path d="M616.38 793.08L620.08 799.88L612.68 799.88Z" fill="#ff7c0c"/>
<path d="M625.05 792.65L628.75 799.45L621.35 799.45Z" fill="#ff7c0c"/>
<path d="M633.99 790.91L637.69 797.71L630.29 797.71Z" fill="#ff7c0c"/>
<path d="M653.52 798.29L657.22 805.09L649.82 805.09Z" fill="#ff7c0c"/>
<path d="M664.97 796.55L668.67 803.35L661.27 803.35Z" fill="#ff7c0c"/>
<path d="M676.52 794.38L680.22 801.18L672.82 801.18Z" fill="#ff7c0c"/>
<path d="M596.42 800.02L600.12 806.82L592.72 806.82Z" fill="#ff7c0c"/>
<path d="M607.7 803.93L611.4 810.73L604 810.73Z" fill="#ff7c0c"/>
<path d="M619.24 805.67L622.94 812.47L615.54 812.47Z" fill="#ff7c0c"/>
<path d="M630.69 805.67L634.39 812.47L626.99 812.47Z" fill="#ff7c0c"/>
<path d="M642.06 803.93L645.76 810.73L638.36 810.73Z" fill="#ff7c0c"/>
<path d="M590.6 809.57L594.3 816.37L586.9 816.37Z" fill="#ff7c0c"/>
<path d="M647.88 809.14L651.58 815.94L644.18 815.94Z" fill="#ff7c0c"/>
<path d="M659.42 807.84L663.12 814.64L655.72 814.64Z" fill="#ff7c0c"/>
<path d="M602.14 813.48L605.84 820.28L598.44 820.28Z" fill="#ff7c0c"/>
<path d="M613.6 817.38L617.3 824.18L609.9 824.18Z" fill="#ff7c0c"/>
<path d="M625.05 817.38L628.75 824.18L621.35 824.18Z" fill="#ff7c0c"/>
<path d="M636.34 813.48L640.04 820.28L632.64 820.28Z" fill="#ff7c0c"/>
<path d="M596.42 823.46L600.12 830.26L592.72 830.26Z" fill="#ff7c0c"/>
<path d="M607.7 827.36L611.4 834.16L604 834.16Z" fill="#ff7c0c"/>
<path d="M619.24 832.57L622.94 839.37L615.54 839.37Z" fill="#ff7c0c"/>
<path d="M630.69 830.83L634.39 837.63L626.99 837.63Z" fill="#ff7c0c"/>
<path d="M642.06 825.19L645.76 831.99L638.36 831.99Z" fill="#ff7c0c"/>
<path d="M653.52 823.46L657.22 830.26L649.82 830.26Z" fill="#ff7c0c"/>
</g>
<line x1="223.4" y1="640" x2="685" y2="640" stroke="#000" stroke-width="3" stroke-linecap="butt"/>
<line x1="395.6" y1="685" x2="685" y2="685" stroke="#000" stroke-width="3" stroke-linecap="butt"/>
<line x1="223.4" y1="717.5" x2="513.7" y2="717.5" stroke="#000" stroke-width="3" stroke-linecap="butt"/>
<text transform="translate(466.5 635) scale(1 1.035)" font-size="43.5" text-anchor="middle" font-style="italic">N.S.</text>
<text transform="translate(542.8 680) scale(1 1.035)" font-size="43.5" text-anchor="middle" font-style="italic">N.S.</text>
<text transform="translate(358 710) scale(1 1.035)" font-size="43.5" text-anchor="middle" font-style="italic">N.S.</text>
<text transform="translate(37.9 920.6) rotate(-90) scale(1 1.035)" font-size="43" text-anchor="middle">Birth weight (g)</text>
<text transform="translate(371.4 1137.5) rotate(-30) scale(1 1.035)" font-size="41.5" text-anchor="end">0<tspan font-size="27.4" dy="-14.1">o</tspan><tspan dy="14.1"> ≤ θ ≤ 30</tspan><tspan font-size="27.4" dy="-14.1">o</tspan></text>
<text transform="translate(543 1137.5) rotate(-30) scale(1 1.035)" font-size="41.5" text-anchor="end">30<tspan font-size="27.4" dy="-14.1">o</tspan><tspan dy="14.1"> &lt; θ ≤ 60</tspan><tspan font-size="27.4" dy="-14.1">o</tspan></text>
<text transform="translate(714.5 1137.5) rotate(-30) scale(1 1.035)" font-size="41.5" text-anchor="end">60<tspan font-size="27.4" dy="-14.1">o</tspan><tspan dy="14.1"> &lt; θ ≤ 90</tspan><tspan font-size="27.4" dy="-14.1">o</tspan></text>
<text transform="translate(796 645.5)" font-size="42" text-anchor="start" font-weight="bold">d</text>
<line x1="926" y1="721.9" x2="926" y2="1107.5" stroke="#000" stroke-width="4" stroke-linecap="butt"/>
<line x1="915" y1="723.9" x2="926" y2="723.9" stroke="#000" stroke-width="4" stroke-linecap="butt"/>
<text transform="translate(905.1 739.4) scale(1 1.035)" font-size="42.5" text-anchor="end">120</text>
<line x1="915" y1="787.5" x2="926" y2="787.5" stroke="#000" stroke-width="4" stroke-linecap="butt"/>
<text transform="translate(905.1 803) scale(1 1.035)" font-size="42.5" text-anchor="end">100</text>
<line x1="915" y1="851.1" x2="926" y2="851.1" stroke="#000" stroke-width="4" stroke-linecap="butt"/>
<text transform="translate(905.1 866.6) scale(1 1.035)" font-size="42.5" text-anchor="end">80</text>
<line x1="915" y1="914.7" x2="926" y2="914.7" stroke="#000" stroke-width="4" stroke-linecap="butt"/>
<text transform="translate(905.1 930.2) scale(1 1.035)" font-size="42.5" text-anchor="end">60</text>
<line x1="915" y1="978.3" x2="926" y2="978.3" stroke="#000" stroke-width="4" stroke-linecap="butt"/>
<text transform="translate(905.1 993.8) scale(1 1.035)" font-size="42.5" text-anchor="end">40</text>
<line x1="915" y1="1041.9" x2="926" y2="1041.9" stroke="#000" stroke-width="4" stroke-linecap="butt"/>
<text transform="translate(905.1 1057.4) scale(1 1.035)" font-size="42.5" text-anchor="end">20</text>
<line x1="915" y1="1105.5" x2="926" y2="1105.5" stroke="#000" stroke-width="4" stroke-linecap="butt"/>
<text transform="translate(905.1 1121) scale(1 1.035)" font-size="42.5" text-anchor="end">0</text>
<line x1="915" y1="1106" x2="1497" y2="1106" stroke="#000" stroke-width="4" stroke-linecap="butt"/>
<line x1="1039" y1="1106" x2="1039" y2="1117" stroke="#000" stroke-width="4" stroke-linecap="butt"/>
<line x1="1211" y1="1106" x2="1211" y2="1117" stroke="#000" stroke-width="4" stroke-linecap="butt"/>
<line x1="1382.5" y1="1106" x2="1382.5" y2="1117" stroke="#000" stroke-width="4" stroke-linecap="butt"/>
<rect x="982.5" y="956" width="113.5" height="150" fill="#606060"/>
<rect x="982.5" y="787.5" width="113.5" height="318.5" fill="none" stroke="#000" stroke-width="3.4" stroke-linejoin="round"/>
<line x1="982.5" y1="956" x2="1096" y2="956" stroke="#000" stroke-width="3.4" stroke-linecap="butt"/>
<rect x="1154" y="952.5" width="113.5" height="153.5" fill="#606060"/>
<rect x="1154" y="787.5" width="113.5" height="318.5" fill="none" stroke="#000" stroke-width="3.4" stroke-linejoin="round"/>
<line x1="1154" y1="952.5" x2="1267.5" y2="952.5" stroke="#000" stroke-width="3.4" stroke-linecap="butt"/>
<rect x="1325" y="950" width="114" height="156" fill="#606060"/>
<rect x="1325" y="787.5" width="114" height="318.5" fill="none" stroke="#000" stroke-width="3.4" stroke-linejoin="round"/>
<line x1="1325" y1="950" x2="1439" y2="950" stroke="#000" stroke-width="3.4" stroke-linecap="butt"/>
<rect x="956.5" y="638.5" width="40" height="22" fill="#fff" stroke="#000" stroke-width="3"/>
<text transform="translate(1012 661) scale(1 1.035)" font-size="42" text-anchor="start">Male</text>
<rect x="1264.5" y="638.5" width="40" height="22" fill="#606060" stroke="#000" stroke-width="3"/>
<text transform="translate(1322 661) scale(1 1.035)" font-size="42" text-anchor="start">Female</text>
<line x1="980" y1="702.5" x2="1442.5" y2="702.5" stroke="#000" stroke-width="3" stroke-linecap="butt"/>
<line x1="1154" y1="742.5" x2="1442.5" y2="742.5" stroke="#000" stroke-width="3" stroke-linecap="butt"/>
<line x1="980" y1="764" x2="1271" y2="764" stroke="#000" stroke-width="3" stroke-linecap="butt"/>
<text transform="translate(1225 695) scale(1 1.035)" font-size="43.5" text-anchor="middle" font-style="italic">N.S.</text>
<text transform="translate(1324 737.5) scale(1 1.035)" font-size="43.5" text-anchor="middle" font-style="italic">N.S.</text>
<text transform="translate(1107 757.5) scale(1 1.035)" font-size="43.5" text-anchor="middle" font-style="italic">N.S.</text>
<text transform="translate(826 910) rotate(-90) scale(1 1.035)" font-size="42" text-anchor="middle">Gender rate (%)</text>
<text transform="translate(1134 1138.5) rotate(-30) scale(1 1.035)" font-size="41.5" text-anchor="end">0<tspan font-size="27.4" dy="-14.1">o</tspan><tspan dy="14.1"> ≤ θ ≤ 30</tspan><tspan font-size="27.4" dy="-14.1">o</tspan></text>
<text transform="translate(1306 1138.5) rotate(-30) scale(1 1.035)" font-size="41.5" text-anchor="end">30<tspan font-size="27.4" dy="-14.1">o</tspan><tspan dy="14.1"> &lt; θ ≤ 60</tspan><tspan font-size="27.4" dy="-14.1">o</tspan></text>
<text transform="translate(1477.5 1138.5) rotate(-30) scale(1 1.035)" font-size="41.5" text-anchor="end">60<tspan font-size="27.4" dy="-14.1">o</tspan><tspan dy="14.1"> &lt; θ ≤ 90</tspan><tspan font-size="27.4" dy="-14.1">o</tspan></text>
<text transform="translate(-0.8 1288.5)" font-size="42" text-anchor="start" font-weight="bold">e</text>
<line x1="168.4" y1="1292.7" x2="168.4" y2="1539.2" stroke="#000" stroke-width="4" stroke-linecap="butt"/>
<line x1="157.2" y1="1294.7" x2="168.4" y2="1294.7" stroke="#000" stroke-width="4" stroke-linecap="butt"/>
<text transform="translate(149.7 1311.2) scale(1 1.035)" font-size="41.5" text-anchor="end">100</text>
<line x1="157.2" y1="1355.2" x2="168.4" y2="1355.2" stroke="#000" stroke-width="4" stroke-linecap="butt"/>
<text transform="translate(149.7 1371.7) scale(1 1.035)" font-size="41.5" text-anchor="end">95</text>
<line x1="157.2" y1="1415.7" x2="168.4" y2="1415.7" stroke="#000" stroke-width="4" stroke-linecap="butt"/>
<text transform="translate(149.7 1432.2) scale(1 1.035)" font-size="41.5" text-anchor="end">90</text>
<line x1="157.2" y1="1476.2" x2="168.4" y2="1476.2" stroke="#000" stroke-width="4" stroke-linecap="butt"/>
<text transform="translate(149.7 1492.7) scale(1 1.035)" font-size="41.5" text-anchor="end">85</text>
<line x1="157.2" y1="1537.2" x2="168.4" y2="1537.2" stroke="#000" stroke-width="4" stroke-linecap="butt"/>
<text transform="translate(149.7 1553.7) scale(1 1.035)" font-size="41.5" text-anchor="end">80</text>
<line x1="168.4" y1="1537.2" x2="179.8" y2="1537.2" stroke="#000" stroke-width="4" stroke-linecap="butt"/>
<line x1="168.4" y1="1568.5" x2="168.4" y2="1686" stroke="#000" stroke-width="4" stroke-linecap="butt"/>
<line x1="157.2" y1="1570.5" x2="168.4" y2="1570.5" stroke="#000" stroke-width="4" stroke-linecap="butt"/>
<text transform="translate(149.7 1587) scale(1 1.035)" font-size="41.5" text-anchor="end">60</text>
<line x1="157.2" y1="1622.3" x2="168.4" y2="1622.3" stroke="#000" stroke-width="4" stroke-linecap="butt"/>
<text transform="translate(149.7 1638.8) scale(1 1.035)" font-size="41.5" text-anchor="end">30</text>
<line x1="157.2" y1="1674.3" x2="168.4" y2="1674.3" stroke="#000" stroke-width="4" stroke-linecap="butt"/>
<text transform="translate(149.7 1690.8) scale(1 1.035)" font-size="41.5" text-anchor="end">0</text>
<line x1="168.4" y1="1570.5" x2="179.8" y2="1570.5" stroke="#000" stroke-width="4" stroke-linecap="butt"/>
<line x1="157.2" y1="1674.3" x2="740.7" y2="1674.3" stroke="#000" stroke-width="4" stroke-linecap="butt"/>
<line x1="168.4" y1="1674.3" x2="168.4" y2="1685.5" stroke="#000" stroke-width="4" stroke-linecap="butt"/>
<text transform="translate(168.4 1722) scale(1 1.035)" font-size="42" text-anchor="middle">0</text>
<line x1="239.81" y1="1674.3" x2="239.81" y2="1685.5" stroke="#000" stroke-width="4" stroke-linecap="butt"/>
<text transform="translate(239.81 1722) scale(1 1.035)" font-size="42" text-anchor="middle">1</text>
<line x1="311.22" y1="1674.3" x2="311.22" y2="1685.5" stroke="#000" stroke-width="4" stroke-linecap="butt"/>
<text transform="translate(311.22 1722) scale(1 1.035)" font-size="42" text-anchor="middle">2</text>
<line x1="382.63" y1="1674.3" x2="382.63" y2="1685.5" stroke="#000" stroke-width="4" stroke-linecap="butt"/>
<text transform="translate(382.63 1722) scale(1 1.035)" font-size="42" text-anchor="middle">3</text>
<line x1="454.04" y1="1674.3" x2="454.04" y2="1685.5" stroke="#000" stroke-width="4" stroke-linecap="butt"/>
<text transform="translate(454.04 1722) scale(1 1.035)" font-size="42" text-anchor="middle">4</text>
<line x1="525.45" y1="1674.3" x2="525.45" y2="1685.5" stroke="#000" stroke-width="4" stroke-linecap="butt"/>
<text transform="translate(525.45 1722) scale(1 1.035)" font-size="42" text-anchor="middle">5</text>
<line x1="596.86" y1="1674.3" x2="596.86" y2="1685.5" stroke="#000" stroke-width="4" stroke-linecap="butt"/>
<text transform="translate(596.86 1722) scale(1 1.035)" font-size="42" text-anchor="middle">6</text>
<line x1="668.27" y1="1674.3" x2="668.27" y2="1685.5" stroke="#000" stroke-width="4" stroke-linecap="butt"/>
<text transform="translate(668.27 1722) scale(1 1.035)" font-size="42" text-anchor="middle">7</text>
<line x1="739.68" y1="1674.3" x2="739.68" y2="1685.5" stroke="#000" stroke-width="4" stroke-linecap="butt"/>
<text transform="translate(739.68 1722) scale(1 1.035)" font-size="42" text-anchor="middle">8</text>
<text transform="translate(476.4 1768.5) scale(1 1.035)" font-size="42.3" text-anchor="middle">Weeks after birth</text>
<text transform="translate(60.3 1475.5) rotate(-90) scale(1 1.035)" font-size="40.6" text-anchor="middle">% Survival</text>
<path d="M239.81 1474.3H739.68" stroke="#ff7200" stroke-width="3.7" fill="none"/>
<path d="M239.81 1467L247.51 1481.6L232.11 1481.6Z" fill="#ff7c0c"/>
<path d="M739.68 1467L747.38 1481.6L731.98 1481.6Z" fill="#ff7c0c"/>
<path d="M239.81 1360.8H311.22V1413.7H382.63V1453H739.68" stroke="#1497b0" stroke-width="3.7" fill="none"/>
<rect x="232.21" y="1353.2" width="15.2" height="15.2" fill="#1497b0"/>
<rect x="303.62" y="1406.1" width="15.2" height="15.2" fill="#1497b0"/>
<rect x="375.03" y="1445.4" width="15.2" height="15.2" fill="#1497b0"/>
<rect x="732.08" y="1445.4" width="15.2" height="15.2" fill="#1497b0"/>
<path d="M239.81 1410.2H382.63V1439H739.68" stroke="#000" stroke-width="3.7" fill="none"/>
<circle cx="239.81" cy="1410.2" r="7.4" fill="#000"/>
<circle cx="382.63" cy="1439" r="7.4" fill="#000"/>
<circle cx="739.68" cy="1439" r="7.4" fill="#000"/>
<line x1="908" y1="1431.7" x2="949.5" y2="1431.7" stroke="#000" stroke-width="3.7" stroke-linecap="round"/>
<circle cx="928.7" cy="1431.7" r="7.5" fill="#000"/>
<text transform="translate(1211.5 1446.2) scale(1 1.035)" font-size="42.3" text-anchor="end">0<tspan font-size="27.9" dy="-14.4">o</tspan><tspan dy="14.4"> ≤ θ ≤ 30</tspan><tspan font-size="27.9" dy="-14.4">o</tspan></text>
<line x1="908" y1="1486.2" x2="949.5" y2="1486.2" stroke="#1497b0" stroke-width="3.7" stroke-linecap="round"/>
<rect x="921.1" y="1478.6" width="15.2" height="15.2" fill="#1497b0"/>
<text transform="translate(1211.5 1500.7) scale(1 1.035)" font-size="42.3" text-anchor="end">30<tspan font-size="27.9" dy="-14.4">o</tspan><tspan dy="14.4"> &lt; θ ≤ 60</tspan><tspan font-size="27.9" dy="-14.4">o</tspan></text>
<line x1="908" y1="1545.8" x2="949.5" y2="1545.8" stroke="#ff7c0c" stroke-width="3.7" stroke-linecap="round"/>
<path d="M928.7 1538.5L936.4 1553.1L921 1553.1Z" fill="#ff7c0c"/>
<text transform="translate(1211.5 1560.3) scale(1 1.035)" font-size="42.3" text-anchor="end">60<tspan font-size="27.9" dy="-14.4">o</tspan><tspan dy="14.4"> &lt; θ ≤ 90</tspan><tspan font-size="27.9" dy="-14.4">o</tspan></text>
<text transform="translate(0.3 1759.8)" font-size="42" text-anchor="start" font-weight="bold">f</text>
<line x1="169.1" y1="1816" x2="169.1" y2="2200.5" stroke="#000" stroke-width="4" stroke-linecap="butt"/>
<line x1="158.1" y1="1818" x2="169.1" y2="1818" stroke="#000" stroke-width="4" stroke-linecap="butt"/>
<text transform="translate(154 1834.3) scale(1 1.035)" font-size="42" text-anchor="end">50</text>
<line x1="158.1" y1="1894.1" x2="169.1" y2="1894.1" stroke="#000" stroke-width="4" stroke-linecap="butt"/>
<text transform="translate(154 1910.4) scale(1 1.035)" font-size="42" text-anchor="end">40</text>
<line x1="158.1" y1="1970.2" x2="169.1" y2="1970.2" stroke="#000" stroke-width="4" stroke-linecap="butt"/>
<text transform="translate(154 1986.5) scale(1 1.035)" font-size="42" text-anchor="end">30</text>
<line x1="158.1" y1="2046.3" x2="169.1" y2="2046.3" stroke="#000" stroke-width="4" stroke-linecap="butt"/>
<text transform="translate(154 2062.6) scale(1 1.035)" font-size="42" text-anchor="end">20</text>
<line x1="158.1" y1="2122.4" x2="169.1" y2="2122.4" stroke="#000" stroke-width="4" stroke-linecap="butt"/>
<text transform="translate(154 2138.7) scale(1 1.035)" font-size="42" text-anchor="end">10</text>
<line x1="158.1" y1="2198.5" x2="169.1" y2="2198.5" stroke="#000" stroke-width="4" stroke-linecap="butt"/>
<text transform="translate(154 2214.8) scale(1 1.035)" font-size="42" text-anchor="end">0</text>
<line x1="158.1" y1="2198.5" x2="741.4" y2="2198.5" stroke="#000" stroke-width="4" stroke-linecap="butt"/>
<line x1="241" y1="2198.5" x2="241" y2="2210" stroke="#000" stroke-width="4" stroke-linecap="butt"/>
<text transform="translate(241 2248.5) scale(1 1.035)" font-size="42" text-anchor="middle">4</text>
<line x1="347.9" y1="2198.5" x2="347.9" y2="2210" stroke="#000" stroke-width="4" stroke-linecap="butt"/>
<text transform="translate(347.9 2248.5) scale(1 1.035)" font-size="42" text-anchor="middle">5</text>
<line x1="454.8" y1="2198.5" x2="454.8" y2="2210" stroke="#000" stroke-width="4" stroke-linecap="butt"/>
<text transform="translate(454.8 2248.5) scale(1 1.035)" font-size="42" text-anchor="middle">6</text>
<line x1="561.7" y1="2198.5" x2="561.7" y2="2210" stroke="#000" stroke-width="4" stroke-linecap="butt"/>
<text transform="translate(561.7 2248.5) scale(1 1.035)" font-size="42" text-anchor="middle">7</text>
<line x1="668.6" y1="2198.5" x2="668.6" y2="2210" stroke="#000" stroke-width="4" stroke-linecap="butt"/>
<text transform="translate(668.6 2248.5) scale(1 1.035)" font-size="42" text-anchor="middle">8</text>
<text transform="translate(476.5 2292.5) scale(1 1.035)" font-size="42.3" text-anchor="middle">Weeks after birth</text>
<text transform="translate(88.7 2002.8) rotate(-90) scale(1 1.035)" font-size="42" text-anchor="middle">Body weight of females (g)</text>
<polyline points="241,2053 347.9,2024.5 454.8,1983.3 561.7,1950 668.6,1914.9" fill="none" stroke="#000" stroke-width="3.8" stroke-linejoin="round"/>
<g stroke="#000" stroke-width="3.6" stroke-linecap="round">
<line x1="241" y1="2031.4" x2="241" y2="2074.9"/>
<line x1="233.5" y1="2031.4" x2="248.5" y2="2031.4"/>
<line x1="233.5" y1="2074.9" x2="248.5" y2="2074.9"/>
</g>
<circle cx="241" cy="2053" r="7.4" fill="#000"/>
<g stroke="#000" stroke-width="3.6" stroke-linecap="round">
<line x1="347.9" y1="2003.5" x2="347.9" y2="2048.9"/>
<line x1="340.4" y1="2003.5" x2="355.4" y2="2003.5"/>
<line x1="340.4" y1="2048.9" x2="355.4" y2="2048.9"/>
</g>
<circle cx="347.9" cy="2024.5" r="7.4" fill="#000"/>
<g stroke="#000" stroke-width="3.6" stroke-linecap="round">
<line x1="454.8" y1="1955" x2="454.8" y2="2012.9"/>
<line x1="447.3" y1="1955" x2="462.3" y2="1955"/>
<line x1="447.3" y1="2012.9" x2="462.3" y2="2012.9"/>
</g>
<circle cx="454.8" cy="1983.3" r="7.4" fill="#000"/>
<g stroke="#000" stroke-width="3.6" stroke-linecap="round">
<line x1="561.7" y1="1922.8" x2="561.7" y2="1976.1"/>
<line x1="554.2" y1="1922.8" x2="569.2" y2="1922.8"/>
<line x1="554.2" y1="1976.1" x2="569.2" y2="1976.1"/>
</g>
<circle cx="561.7" cy="1950" r="7.4" fill="#000"/>
<g stroke="#000" stroke-width="3.6" stroke-linecap="round">
<line x1="668.6" y1="1887.6" x2="668.6" y2="1941.5"/>
<line x1="661.1" y1="1887.6" x2="676.1" y2="1887.6"/>
<line x1="661.1" y1="1941.5" x2="676.1" y2="1941.5"/>
</g>
<circle cx="668.6" cy="1914.9" r="7.4" fill="#000"/>
<polyline points="241,2060 347.9,2026 454.8,1985.8 561.7,1960.8 668.6,1920.2" fill="none" stroke="#1497b0" stroke-width="3.8" stroke-linejoin="round"/>
<g stroke="#1497b0" stroke-width="3.6" stroke-linecap="round">
<line x1="241" y1="2039.4" x2="241" y2="2080.5"/>
<line x1="233.5" y1="2039.4" x2="248.5" y2="2039.4"/>
<line x1="233.5" y1="2080.5" x2="248.5" y2="2080.5"/>
</g>
<rect x="233.7" y="2052.7" width="14.6" height="14.6" fill="#1497b0"/>
<g stroke="#1497b0" stroke-width="3.6" stroke-linecap="round">
<line x1="347.9" y1="2002" x2="347.9" y2="2050.7"/>
<line x1="340.4" y1="2002" x2="355.4" y2="2002"/>
<line x1="340.4" y1="2050.7" x2="355.4" y2="2050.7"/>
</g>
<rect x="340.6" y="2018.7" width="14.6" height="14.6" fill="#1497b0"/>
<g stroke="#1497b0" stroke-width="3.6" stroke-linecap="round">
<line x1="454.8" y1="1955.2" x2="454.8" y2="2016.5"/>
<line x1="447.3" y1="1955.2" x2="462.3" y2="1955.2"/>
<line x1="447.3" y1="2016.5" x2="462.3" y2="2016.5"/>
</g>
<rect x="447.5" y="1978.5" width="14.6" height="14.6" fill="#1497b0"/>
<g stroke="#1497b0" stroke-width="3.6" stroke-linecap="round">
<line x1="561.7" y1="1938.9" x2="561.7" y2="1982.9"/>
<line x1="554.2" y1="1938.9" x2="569.2" y2="1938.9"/>
<line x1="554.2" y1="1982.9" x2="569.2" y2="1982.9"/>
</g>
<rect x="554.4" y="1953.5" width="14.6" height="14.6" fill="#1497b0"/>
<g stroke="#1497b0" stroke-width="3.6" stroke-linecap="round">
<line x1="668.6" y1="1896.3" x2="668.6" y2="1944.3"/>
<line x1="661.1" y1="1896.3" x2="676.1" y2="1896.3"/>
<line x1="661.1" y1="1944.3" x2="676.1" y2="1944.3"/>
</g>
<rect x="661.3" y="1912.9" width="14.6" height="14.6" fill="#1497b0"/>
<polyline points="241,2047.5 347.9,2024.8 454.8,1982 561.7,1951.5 668.6,1913.5" fill="none" stroke="#ff7c0c" stroke-width="3.8" stroke-linejoin="round"/>
<g stroke="#ff7c0c" stroke-width="3.6" stroke-linecap="round">
<line x1="241" y1="2026" x2="241" y2="2066.5"/>
<line x1="233.5" y1="2026" x2="248.5" y2="2026"/>
<line x1="233.5" y1="2066.5" x2="248.5" y2="2066.5"/>
</g>
<path d="M241 2040.4L248.5 2054.6L233.5 2054.6Z" fill="#ff7c0c"/>
<g stroke="#ff7c0c" stroke-width="3.6" stroke-linecap="round">
<line x1="347.9" y1="2003.8" x2="347.9" y2="2045.3"/>
<line x1="340.4" y1="2003.8" x2="355.4" y2="2003.8"/>
<line x1="340.4" y1="2045.3" x2="355.4" y2="2045.3"/>
</g>
<path d="M347.9 2017.7L355.4 2031.9L340.4 2031.9Z" fill="#ff7c0c"/>
<g stroke="#ff7c0c" stroke-width="3.6" stroke-linecap="round">
<line x1="454.8" y1="1952.4" x2="454.8" y2="2008.9"/>
<line x1="447.3" y1="1952.4" x2="462.3" y2="1952.4"/>
<line x1="447.3" y1="2008.9" x2="462.3" y2="2008.9"/>
</g>
<path d="M454.8 1974.9L462.3 1989.1L447.3 1989.1Z" fill="#ff7c0c"/>
<g stroke="#ff7c0c" stroke-width="3.6" stroke-linecap="round">
<line x1="561.7" y1="1919.9" x2="561.7" y2="1983.5"/>
<line x1="554.2" y1="1919.9" x2="569.2" y2="1919.9"/>
<line x1="554.2" y1="1983.5" x2="569.2" y2="1983.5"/>
</g>
<path d="M561.7 1944.4L569.2 1958.6L554.2 1958.6Z" fill="#ff7c0c"/>
<g stroke="#ff7c0c" stroke-width="3.6" stroke-linecap="round">
<line x1="668.6" y1="1892.1" x2="668.6" y2="1935.6"/>
<line x1="661.1" y1="1892.1" x2="676.1" y2="1892.1"/>
<line x1="661.1" y1="1935.6" x2="676.1" y2="1935.6"/>
</g>
<path d="M668.6 1906.4L676.1 1920.6L661.1 1920.6Z" fill="#ff7c0c"/>
<text transform="translate(798.5 1752.5)" font-size="42" text-anchor="start" font-weight="bold">g</text>
<line x1="924.8" y1="1815" x2="924.8" y2="2200.4" stroke="#000" stroke-width="4" stroke-linecap="butt"/>
<line x1="913.8" y1="1817" x2="924.8" y2="1817" stroke="#000" stroke-width="4" stroke-linecap="butt"/>
<text transform="translate(910.3 1833.3) scale(1 1.035)" font-size="42" text-anchor="end">50</text>
<line x1="913.8" y1="1893.28" x2="924.8" y2="1893.28" stroke="#000" stroke-width="4" stroke-linecap="butt"/>
<text transform="translate(910.3 1909.58) scale(1 1.035)" font-size="42" text-anchor="end">40</text>
<line x1="913.8" y1="1969.56" x2="924.8" y2="1969.56" stroke="#000" stroke-width="4" stroke-linecap="butt"/>
<text transform="translate(910.3 1985.86) scale(1 1.035)" font-size="42" text-anchor="end">30</text>
<line x1="913.8" y1="2045.84" x2="924.8" y2="2045.84" stroke="#000" stroke-width="4" stroke-linecap="butt"/>
<text transform="translate(910.3 2062.14) scale(1 1.035)" font-size="42" text-anchor="end">20</text>
<line x1="913.8" y1="2122.12" x2="924.8" y2="2122.12" stroke="#000" stroke-width="4" stroke-linecap="butt"/>
<text transform="translate(910.3 2138.42) scale(1 1.035)" font-size="42" text-anchor="end">10</text>
<line x1="913.8" y1="2198.4" x2="924.8" y2="2198.4" stroke="#000" stroke-width="4" stroke-linecap="butt"/>
<text transform="translate(910.3 2214.7) scale(1 1.035)" font-size="42" text-anchor="end">0</text>
<line x1="913.8" y1="2198.4" x2="1497.1" y2="2198.4" stroke="#000" stroke-width="4" stroke-linecap="butt"/>
<line x1="995.8" y1="2198.4" x2="995.8" y2="2209.9" stroke="#000" stroke-width="4" stroke-linecap="butt"/>
<text transform="translate(995.8 2248.5) scale(1 1.035)" font-size="42" text-anchor="middle">4</text>
<line x1="1102.75" y1="2198.4" x2="1102.75" y2="2209.9" stroke="#000" stroke-width="4" stroke-linecap="butt"/>
<text transform="translate(1102.75 2248.5) scale(1 1.035)" font-size="42" text-anchor="middle">5</text>
<line x1="1209.7" y1="2198.4" x2="1209.7" y2="2209.9" stroke="#000" stroke-width="4" stroke-linecap="butt"/>
<text transform="translate(1209.7 2248.5) scale(1 1.035)" font-size="42" text-anchor="middle">6</text>
<line x1="1316.65" y1="2198.4" x2="1316.65" y2="2209.9" stroke="#000" stroke-width="4" stroke-linecap="butt"/>
<text transform="translate(1316.65 2248.5) scale(1 1.035)" font-size="42" text-anchor="middle">7</text>
<line x1="1423.6" y1="2198.4" x2="1423.6" y2="2209.9" stroke="#000" stroke-width="4" stroke-linecap="butt"/>
<text transform="translate(1423.6 2248.5) scale(1 1.035)" font-size="42" text-anchor="middle">8</text>
<text transform="translate(1232.5 2292.5) scale(1 1.035)" font-size="42.3" text-anchor="middle">Weeks after birth</text>
<text transform="translate(844.9 2012.9) rotate(-90) scale(1 1.035)" font-size="43" text-anchor="middle">Body weight of males (g)</text>
<polyline points="995.8,2049.5 1102.75,2007.5 1209.7,1979.7 1316.65,1934.1 1423.6,1907" fill="none" stroke="#000" stroke-width="3.8" stroke-linejoin="round"/>
<g stroke="#000" stroke-width="3.6" stroke-linecap="round">
<line x1="995.8" y1="2033.8" x2="995.8" y2="2063.2"/>
<line x1="988.3" y1="2033.8" x2="1003.3" y2="2033.8"/>
<line x1="988.3" y1="2063.2" x2="1003.3" y2="2063.2"/>
</g>
<circle cx="995.8" cy="2049.5" r="7.4" fill="#000"/>
<g stroke="#000" stroke-width="3.6" stroke-linecap="round">
<line x1="1102.75" y1="1979.2" x2="1102.75" y2="2040.5"/>
<line x1="1095.25" y1="1979.2" x2="1110.25" y2="1979.2"/>
<line x1="1095.25" y1="2040.5" x2="1110.25" y2="2040.5"/>
</g>
<circle cx="1102.75" cy="2007.5" r="7.4" fill="#000"/>
<g stroke="#000" stroke-width="3.6" stroke-linecap="round">
<line x1="1209.7" y1="1955.3" x2="1209.7" y2="2007.2"/>
<line x1="1202.2" y1="1955.3" x2="1217.2" y2="1955.3"/>
<line x1="1202.2" y1="2007.2" x2="1217.2" y2="2007.2"/>
</g>
<circle cx="1209.7" cy="1979.7" r="7.4" fill="#000"/>
<g stroke="#000" stroke-width="3.6" stroke-linecap="round">
<line x1="1316.65" y1="1917" x2="1316.65" y2="1953.4"/>
<line x1="1309.15" y1="1917" x2="1324.15" y2="1917"/>
<line x1="1309.15" y1="1953.4" x2="1324.15" y2="1953.4"/>
</g>
<circle cx="1316.65" cy="1934.1" r="7.4" fill="#000"/>
<g stroke="#000" stroke-width="3.6" stroke-linecap="round">
<line x1="1423.6" y1="1882.5" x2="1423.6" y2="1931.2"/>
<line x1="1416.1" y1="1882.5" x2="1431.1" y2="1882.5"/>
<line x1="1416.1" y1="1931.2" x2="1431.1" y2="1931.2"/>
</g>
<circle cx="1423.6" cy="1907" r="7.4" fill="#000"/>
<polyline points="995.8,2054.5 1102.75,2005.2 1209.7,1970.6 1316.65,1941.3 1423.6,1904.8" fill="none" stroke="#1497b0" stroke-width="3.8" stroke-linejoin="round"/>
<g stroke="#1497b0" stroke-width="3.6" stroke-linecap="round">
<line x1="995.8" y1="2036.2" x2="995.8" y2="2072.6"/>
<line x1="988.3" y1="2036.2" x2="1003.3" y2="2036.2"/>
<line x1="988.3" y1="2072.6" x2="1003.3" y2="2072.6"/>
</g>
<rect x="988.5" y="2047.2" width="14.6" height="14.6" fill="#1497b0"/>
<g stroke="#1497b0" stroke-width="3.6" stroke-linecap="round">
<line x1="1102.75" y1="1969.7" x2="1102.75" y2="2040.5"/>
<line x1="1095.25" y1="1969.7" x2="1110.25" y2="1969.7"/>
<line x1="1095.25" y1="2040.5" x2="1110.25" y2="2040.5"/>
</g>
<rect x="1095.45" y="1997.9" width="14.6" height="14.6" fill="#1497b0"/>
<g stroke="#1497b0" stroke-width="3.6" stroke-linecap="round">
<line x1="1209.7" y1="1936.8" x2="1209.7" y2="2003"/>
<line x1="1202.2" y1="1936.8" x2="1217.2" y2="1936.8"/>
<line x1="1202.2" y1="2003" x2="1217.2" y2="2003"/>
</g>
<rect x="1202.4" y="1963.3" width="14.6" height="14.6" fill="#1497b0"/>
<g stroke="#1497b0" stroke-width="3.6" stroke-linecap="round">
<line x1="1316.65" y1="1909.4" x2="1316.65" y2="1971"/>
<line x1="1309.15" y1="1909.4" x2="1324.15" y2="1909.4"/>
<line x1="1309.15" y1="1971" x2="1324.15" y2="1971"/>
</g>
<rect x="1309.35" y="1934" width="14.6" height="14.6" fill="#1497b0"/>
<g stroke="#1497b0" stroke-width="3.6" stroke-linecap="round">
<line x1="1423.6" y1="1880.7" x2="1423.6" y2="1929.1"/>
<line x1="1416.1" y1="1880.7" x2="1431.1" y2="1880.7"/>
<line x1="1416.1" y1="1929.1" x2="1431.1" y2="1929.1"/>
</g>
<rect x="1416.3" y="1897.5" width="14.6" height="14.6" fill="#1497b0"/>
<polyline points="995.8,2048.2 1102.75,2014.5 1209.7,1970.6 1316.65,1942.2 1423.6,1906.1" fill="none" stroke="#ff7c0c" stroke-width="3.8" stroke-linejoin="round"/>
<g stroke="#ff7c0c" stroke-width="3.6" stroke-linecap="round">
<line x1="995.8" y1="2024.3" x2="995.8" y2="2068.6"/>
<line x1="988.3" y1="2024.3" x2="1003.3" y2="2024.3"/>
<line x1="988.3" y1="2068.6" x2="1003.3" y2="2068.6"/>
</g>
<path d="M995.8 2041.1L1003.3 2055.3L988.3 2055.3Z" fill="#ff7c0c"/>
<g stroke="#ff7c0c" stroke-width="3.6" stroke-linecap="round">
<line x1="1102.75" y1="1991.1" x2="1102.75" y2="2038.2"/>
<line x1="1095.25" y1="1991.1" x2="1110.25" y2="1991.1"/>
<line x1="1095.25" y1="2038.2" x2="1110.25" y2="2038.2"/>
</g>
<path d="M1102.75 2007.4L1110.25 2021.6L1095.25 2021.6Z" fill="#ff7c0c"/>
<g stroke="#ff7c0c" stroke-width="3.6" stroke-linecap="round">
<line x1="1209.7" y1="1951.9" x2="1209.7" y2="1990"/>
<line x1="1202.2" y1="1951.9" x2="1217.2" y2="1951.9"/>
<line x1="1202.2" y1="1990" x2="1217.2" y2="1990"/>
</g>
<path d="M1209.7 1963.5L1217.2 1977.7L1202.2 1977.7Z" fill="#ff7c0c"/>
<g stroke="#ff7c0c" stroke-width="3.6" stroke-linecap="round">
<line x1="1316.65" y1="1912.8" x2="1316.65" y2="1972.3"/>
<line x1="1309.15" y1="1912.8" x2="1324.15" y2="1912.8"/>
<line x1="1309.15" y1="1972.3" x2="1324.15" y2="1972.3"/>
</g>
<path d="M1316.65 1935.1L1324.15 1949.3L1309.15 1949.3Z" fill="#ff7c0c"/>
<g stroke="#ff7c0c" stroke-width="3.6" stroke-linecap="round">
<line x1="1423.6" y1="1884.3" x2="1423.6" y2="1926.7"/>
<line x1="1416.1" y1="1884.3" x2="1431.1" y2="1884.3"/>
<line x1="1416.1" y1="1926.7" x2="1431.1" y2="1926.7"/>
</g>
<path d="M1423.6 1899L1431.1 1913.2L1416.1 1913.2Z" fill="#ff7c0c"/>
</svg>
</body></html>
